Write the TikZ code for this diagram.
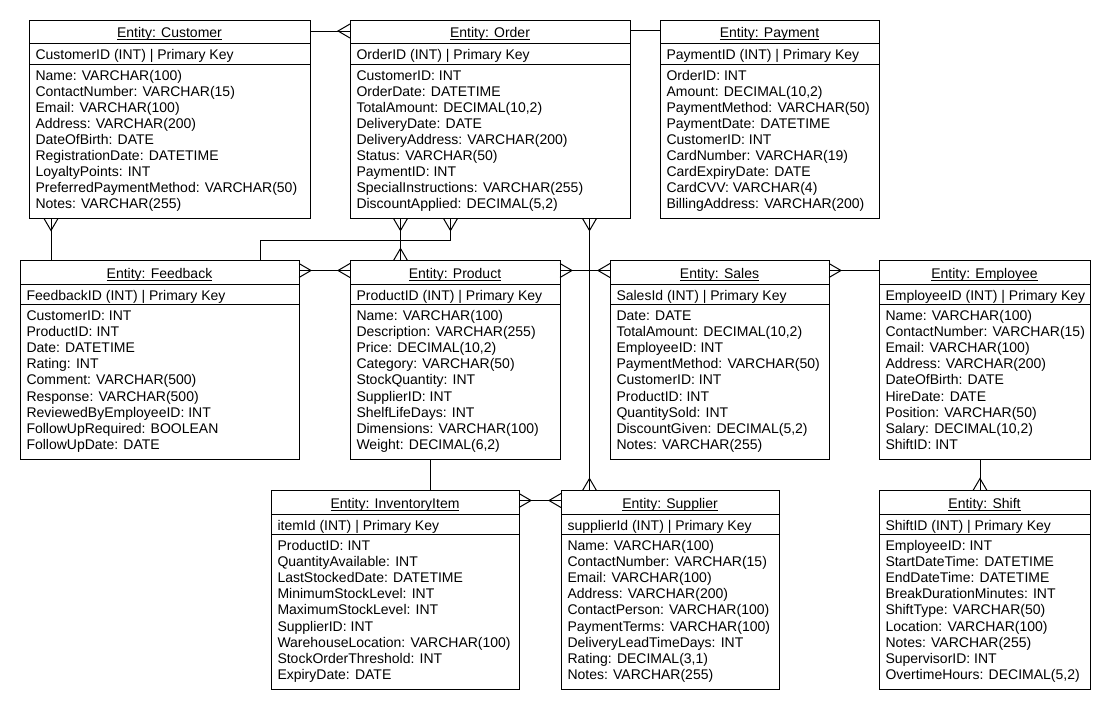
\documentclass[tikz,border=0pt]{standalone}
\usepackage{fontspec}
\setmainfont{Liberation Sans}
\usetikzlibrary{arrows.meta}

% crow's foot ("many") end: two toes meeting 12pt back from the border
\pgfdeclarearrow{
  name = Crow,
  setup code = {
    \pgfarrowssettipend{0pt}
    \pgfarrowssetlineend{0pt}
    \pgfarrowssetbackend{-12pt}
    \pgfarrowssetvisualbackend{-12pt}
    \pgfarrowshullpoint{0pt}{7pt}
    \pgfarrowshullpoint{0pt}{-7pt}
    \pgfarrowshullpoint{-12pt}{0pt}
  },
  drawing code = {
    \pgfsetdash{}{0pt}
    \pgfpathmoveto{\pgfqpoint{0pt}{7pt}}
    \pgfpathlineto{\pgfqpoint{-12pt}{0pt}}
    \pgfpathlineto{\pgfqpoint{0pt}{-7pt}}
    \pgfusepathqstroke
  }
}

\tikzset{
  entitybox/.style={draw=black, fill=white, line width=1pt, rectangle,
    inner sep=0pt, outer sep=0pt, anchor=north west},
  etext/.style={inner sep=0pt, outer sep=0pt, text=black,
    font=\fontsize{14pt}{16pt}\selectfont},
  link/.style={draw=black, line width=1pt}
}

% #1 name, #2 x, #3 y, #4 width, #5 title, #6 key row, #7 attribute rows
\newcommand\erentity[7]{
  \node[entitybox, minimum width=#4pt, minimum height=198.5pt] (#1) at (#2,#3) {};
  \draw[line width=1pt] ([yshift=-23.5pt]#1.north west) -- ([yshift=-23.5pt]#1.north east);
  \draw[line width=1pt] ([yshift=-44pt]#1.north west) -- ([yshift=-44pt]#1.north east);
  \node[etext, anchor=base] (#1-title) at ([yshift=-17.8pt]#1.north) {#5};
  \draw[line width=0.8pt] ([yshift=-1.8pt]#1-title.base west) -- ([yshift=-1.8pt]#1-title.base east);
  \node[etext, anchor=base west] (#1-key) at ([xshift=6.5pt,yshift=-39.8pt]#1.north west) {#6};
  \foreach \t [count=\i from 0] in {#7} {
    \node[etext, anchor=base west] (#1-row\i) at ([xshift=6.5pt,yshift={-60pt-16.1pt*\i}]#1.north west) {\t};
  }
}

\begin{document}
\begin{tikzpicture}[x=1pt, y=-1pt]
\useasboundingbox[fill=white] (0,0) rectangle (1110,710);

% top row
\erentity{cust}{29}{20}{281}{Entity: Customer}{CustomerID (INT) | Primary Key}
  {{Name: VARCHAR(100)},{ContactNumber: VARCHAR(15)},{Email: VARCHAR(100)},{Address: VARCHAR(200)},{DateOfBirth: DATE},{RegistrationDate: DATETIME},{LoyaltyPoints: INT},{PreferredPaymentMethod: VARCHAR(50)},{Notes: VARCHAR(255)}}
\erentity{ord}{350}{20}{280}{Entity: Order}{OrderID (INT) | Primary Key}
  {{CustomerID: INT},{OrderDate: DATETIME},{TotalAmount: DECIMAL(10,2)},{DeliveryDate: DATE},{DeliveryAddress: VARCHAR(200)},{Status: VARCHAR(50)},{PaymentID: INT},{SpecialInstructions: VARCHAR(255)},{DiscountApplied: DECIMAL(5,2)}}
\erentity{pay}{660}{20}{219}{Entity: Payment}{PaymentID (INT) | Primary Key}
  {{OrderID: INT},{Amount: DECIMAL(10,2)},{PaymentMethod: VARCHAR(50)},{PaymentDate: DATETIME},{CustomerID: INT},{CardNumber: VARCHAR(19)},{CardExpiryDate: DATE},{CardCVV: VARCHAR(4)},{BillingAddress: VARCHAR(200)}}

% middle row
\erentity{fb}{20}{260.5}{279}{Entity: Feedback}{FeedbackID (INT) | Primary Key}
  {{CustomerID: INT},{ProductID: INT},{Date: DATETIME},{Rating: INT},{Comment: VARCHAR(500)},{Response: VARCHAR(500)},{ReviewedByEmployeeID: INT},{FollowUpRequired: BOOLEAN},{FollowUpDate: DATE}}
\erentity{prod}{350}{260.5}{210}{Entity: Product}{ProductID (INT) | Primary Key}
  {{Name: VARCHAR(100)},{Description: VARCHAR(255)},{Price: DECIMAL(10,2)},{Category: VARCHAR(50)},{StockQuantity: INT},{SupplierID: INT},{ShelfLifeDays: INT},{Dimensions: VARCHAR(100)},{Weight: DECIMAL(6,2)}}
\erentity{sales}{610}{260.5}{219}{Entity: Sales}{SalesId (INT) | Primary Key}
  {{Date: DATE},{TotalAmount: DECIMAL(10,2)},{EmployeeID: INT},{PaymentMethod: VARCHAR(50)},{CustomerID: INT},{ProductID: INT},{QuantitySold: INT},{DiscountGiven: DECIMAL(5,2)},{Notes: VARCHAR(255)}}
\erentity{emp}{879}{260.5}{211}{Entity: Employee}{EmployeeID (INT) | Primary Key}
  {{Name: VARCHAR(100)},{ContactNumber: VARCHAR(15)},{Email: VARCHAR(100)},{Address: VARCHAR(200)},{DateOfBirth: DATE},{HireDate: DATE},{Position: VARCHAR(50)},{Salary: DECIMAL(10,2)},{ShiftID: INT}}

% bottom row
\erentity{inv}{271}{490.5}{248}{Entity: InventoryItem}{itemId (INT) | Primary Key}
  {{ProductID: INT},{QuantityAvailable: INT},{LastStockedDate: DATETIME},{MinimumStockLevel: INT},{MaximumStockLevel: INT},{SupplierID: INT},{WarehouseLocation: VARCHAR(100)},{StockOrderThreshold: INT},{ExpiryDate: DATE}}
\erentity{sup}{561}{490.5}{218}{Entity: Supplier}{supplierId (INT) | Primary Key}
  {{Name: VARCHAR(100)},{ContactNumber: VARCHAR(15)},{Email: VARCHAR(100)},{Address: VARCHAR(200)},{ContactPerson: VARCHAR(100)},{PaymentTerms: VARCHAR(100)},{DeliveryLeadTimeDays: INT},{Rating: DECIMAL(3,1)},{Notes: VARCHAR(255)}}
\erentity{shift}{879}{490.5}{211}{Entity: Shift}{ShiftID (INT) | Primary Key}
  {{EmployeeID: INT},{StartDateTime: DATETIME},{EndDateTime: DATETIME},{BreakDurationMinutes: INT},{ShiftType: VARCHAR(50)},{Location: VARCHAR(100)},{Notes: VARCHAR(255)},{SupervisorID: INT},{OvertimeHours: DECIMAL(5,2)}}

% relationships
\draw[link, -Crow] ([yshift=-11pt]cust.north east) -- ([yshift=-11pt]ord.north west);
\draw[link] ([yshift=-10pt]ord.north east) -- ([yshift=-10pt]pay.north west);
\draw[link, Crow-] ([xshift=22pt]cust.south west) -- ([xshift=31pt]fb.north west);
\draw[link, -Crow] ([xshift=240.5pt]fb.north west) |- ([xshift=100.5pt,yshift=-21.5pt]ord.south west) -- ([xshift=100.5pt]ord.south west);
\draw[link, Crow-Crow] ([xshift=50.5pt]ord.south west) -- ([xshift=50.5pt]prod.north west);
\draw[link, Crow-Crow] ([xshift=239.5pt]ord.south west) -- ([xshift=28.5pt]sup.north west);
\draw[link, Crow-Crow] ([yshift=-10pt]fb.north east) -- ([yshift=-10pt]prod.north west);
\draw[link, Crow-Crow] ([yshift=-10pt]prod.north east) -- ([yshift=-10pt]sales.north west);
\draw[link, Crow-] ([yshift=-10pt]sales.north east) -- ([yshift=-10pt]emp.north west);
\draw[link, -Crow] ([xshift=101pt]emp.south west) -- ([xshift=101pt]shift.north west);
\draw[link] ([xshift=80.5pt]prod.south west) -- ([xshift=159.5pt]inv.north west);
\draw[link, Crow-Crow] ([yshift=-10pt]inv.north east) -- ([yshift=-10pt]sup.north west);
\end{tikzpicture}
\end{document}
